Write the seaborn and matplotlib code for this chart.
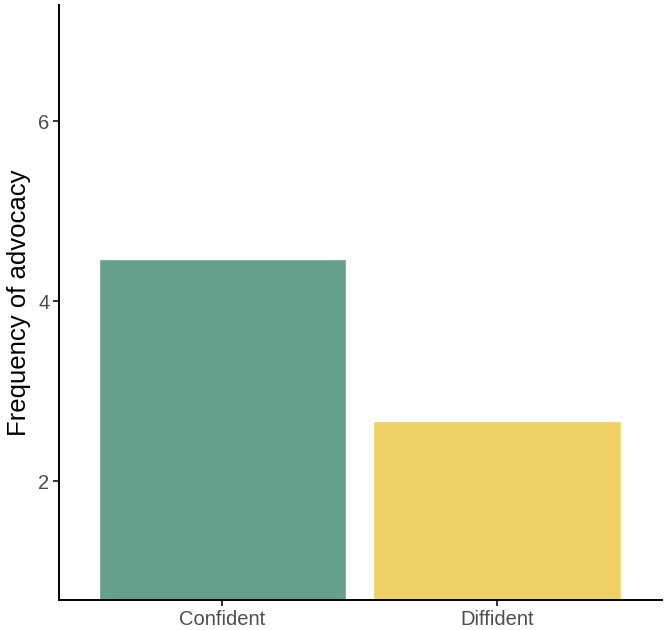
import matplotlib
matplotlib.use("Agg")
import matplotlib.pyplot as plt
import seaborn as sns
import pandas as pd

groups = ["Confident", "Diffident"]
advocacy = [4.467, 2.668]
colors = ["#65A08A", "#F0D264"]
y_ticks = [2, 4, 6]

sns.set_theme(style="white")
plt.rcParams['font.family'] = ['Liberation Sans', 'DejaVu Sans']

df = pd.DataFrame({"group": groups, "value": advocacy})

fig = plt.figure(figsize=(6.66, 6.30), dpi=100)
ax = fig.add_axes([0.0886, 0.0476, 0.905, 0.944])
sns.barplot(data=df, x="group", y="value", hue="group", palette=colors,
            width=0.9, legend=False, ax=ax, saturation=1, errorbar=None)

ax.set_ylim(0.678, 7.289)
ax.set_xlim(-0.594, 1.6)
ax.set_yticks(y_ticks)
ax.set_yticklabels([str(t) for t in y_ticks])
ax.set_xlabel("")
ax.set_ylabel("Frequency of advocacy", fontsize=18.5, color="black", labelpad=5)
ax.tick_params(axis="both", which="both", length=4, width=1.1, color="black",
               labelsize=14.5, labelcolor="#4d4d4d", pad=3, left=True, bottom=True)
for s in ["top", "right"]:
    ax.spines[s].set_visible(False)
for s in ["left", "bottom"]:
    ax.spines[s].set_color("black")
    ax.spines[s].set_linewidth(1.4)

fig.savefig("out.png", dpi=100)
